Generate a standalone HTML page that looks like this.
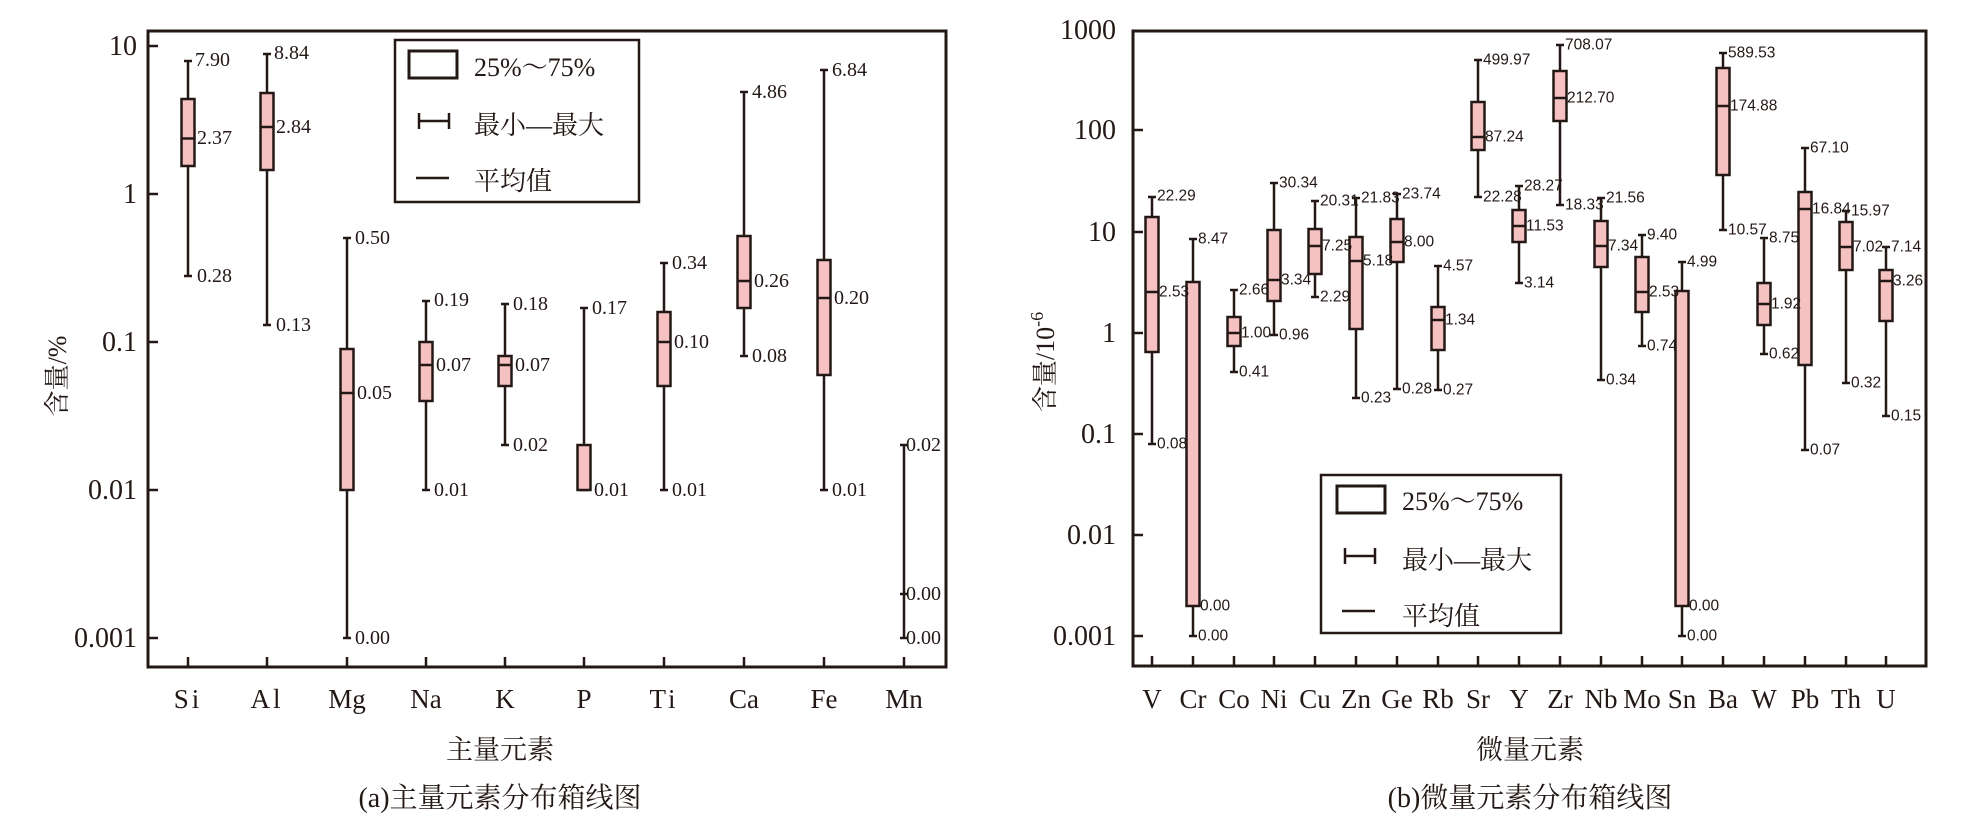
<!DOCTYPE html>
<html><head><meta charset="utf-8"><style>
body{margin:0;background:#fff}
svg{display:block}
.s{font-family:"Liberation Serif","Noto Serif CJK SC",serif;fill:#231815}
.a{font-family:"Liberation Sans",sans-serif;font-size:15.5px;fill:#231815}
.b{font-family:"Liberation Serif",serif;font-size:20px;fill:#231815}
.w{stroke:#231815;stroke-width:2.5;fill:none}
.bx{stroke:#231815;stroke-width:2.5;fill:#f6c1c1}
</style></head><body>
<svg width="1965" height="836" viewBox="0 0 1965 836" xmlns="http://www.w3.org/2000/svg">
<!-- LEFT PLOT -->
<rect x="148" y="31" width="798" height="636" fill="none" stroke="#231815" stroke-width="3"/>
<g class="w">
<path d="M148 46h10M148 194h10M148 342h10M148 490h10M148 638h10"/>
<path d="M188 667v-10M267 667v-10M347 667v-10M426 667v-10M505 667v-10M584 667v-10M664 667v-10M744 667v-10M824 667v-10M904 667v-10"/>
</g>
<g class="s" font-size="28" text-anchor="end">
<text x="137" y="55">10</text><text x="137" y="203">1</text><text x="137" y="351">0.1</text><text x="137" y="499">0.01</text><text x="137" y="647">0.001</text>
</g>
<g class="s" font-size="27" text-anchor="middle">
<text x="188" y="708" letter-spacing="3">Si</text><text x="267" y="708" letter-spacing="3">Al</text><text x="347" y="708">Mg</text><text x="426" y="708">Na</text><text x="505" y="708">K</text><text x="584" y="708">P</text><text x="664" y="708" letter-spacing="3">Ti</text><text x="744" y="708">Ca</text><text x="824" y="708">Fe</text><text x="904" y="708">Mn</text>
<text x="500" y="759">主量元素</text>
<text x="500" y="807" font-size="28">(a)主量元素分布箱线图</text>
</g>
<text class="s" font-size="26" text-anchor="middle" transform="translate(66,376) rotate(-90)">含量/%</text>
<g>
<path class="w" d="M188 61v215M184 61h8M184 276h8"/><rect class="bx" x="181.5" y="99" width="13" height="67"/><path class="w" d="M181.5 138.5h13"/>
<path class="w" d="M267 54v271M263 54h8M263 325h8"/><rect class="bx" x="260.5" y="93" width="13" height="77"/><path class="w" d="M260.5 127h13"/>
<path class="w" d="M347 238v400M343 238h8M343 638h8"/><rect class="bx" x="340.5" y="349" width="13" height="141"/><path class="w" d="M340.5 393h13"/>
<path class="w" d="M426 301v189M422 301h8M422 490h8"/><rect class="bx" x="419.5" y="342" width="13" height="59"/><path class="w" d="M419.5 365h13"/>
<path class="w" d="M505 304v141M501 304h8M501 445h8"/><rect class="bx" x="498.5" y="356" width="13" height="30"/><path class="w" d="M498.5 365h13"/>
<path class="w" d="M584 308v182M580 308h8M580 490h8"/><rect class="bx" x="577.5" y="445" width="13" height="45"/>
<path class="w" d="M664 263v227M660 263h8M660 490h8"/><rect class="bx" x="657.5" y="312" width="13" height="74"/><path class="w" d="M657.5 342h13"/>
<path class="w" d="M744 92v264M740 92h8M740 356h8"/><rect class="bx" x="737.5" y="236" width="13" height="72"/><path class="w" d="M737.5 281h13"/>
<path class="w" d="M824 70v420M820 70h8M820 490h8"/><rect class="bx" x="817.5" y="260" width="13" height="115"/><path class="w" d="M817.5 298h13"/>
<path class="w" d="M904 445v193M900 445h8M900 638h8M900 594h8"/>
</g>
<g class="b" dominant-baseline="central">
<text x="195" y="60">7.90</text><text x="197" y="138">2.37</text><text x="197" y="276">0.28</text>
<text x="274" y="53">8.84</text><text x="276" y="127">2.84</text><text x="276" y="325">0.13</text>
<text x="355" y="238">0.50</text><text x="357" y="393">0.05</text><text x="355" y="638">0.00</text>
<text x="434" y="300">0.19</text><text x="436" y="365">0.07</text><text x="434" y="490">0.01</text>
<text x="513" y="304">0.18</text><text x="515" y="365">0.07</text><text x="513" y="445">0.02</text>
<text x="592" y="308">0.17</text><text x="594" y="490">0.01</text>
<text x="672" y="263">0.34</text><text x="674" y="342">0.10</text><text x="672" y="490">0.01</text>
<text x="752" y="92">4.86</text><text x="754" y="281">0.26</text><text x="752" y="356">0.08</text>
<text x="832" y="70">6.84</text><text x="834" y="298">0.20</text><text x="832" y="490">0.01</text>
<text x="906" y="445">0.02</text><text x="906" y="594">0.00</text><text x="906" y="638">0.00</text>
</g>
<g transform="translate(395,40)">
<rect x="0" y="0" width="244" height="162" fill="#fff" stroke="#231815" stroke-width="2.5"/>
<rect x="14" y="11" width="48" height="27" fill="#fff" stroke="#231815" stroke-width="3"/>
<path class="w" stroke-width="4" d="M24 81h30M24 73v16M54 73v16M21 138h33"/>
<g class="s" font-size="26"><text x="79" y="36">25%～75%</text><text x="79" y="94">最小—最大</text><text x="79" y="150">平均值</text></g>
</g>

<!-- RIGHT PLOT -->
<rect x="1133" y="31" width="793" height="635" fill="none" stroke="#231815" stroke-width="3"/>
<g class="w">
<path d="M1133 130h10M1133 232h10M1133 333h10M1133 434h10M1133 535h10M1133 636h10"/>
<path d="M1152 666v-10M1193 666v-10M1234 666v-10M1274 666v-10M1315 666v-10M1356 666v-10M1397 666v-10M1438 666v-10M1478 666v-10M1519 666v-10M1560 666v-10M1601 666v-10M1642 666v-10M1682 666v-10M1723 666v-10M1764 666v-10M1805 666v-10M1846 666v-10M1886 666v-10"/>
</g>
<g class="s" font-size="28" text-anchor="end">
<text x="1116" y="39">1000</text><text x="1116" y="139">100</text><text x="1116" y="241">10</text><text x="1116" y="342">1</text><text x="1116" y="443">0.1</text><text x="1116" y="544">0.01</text><text x="1116" y="645">0.001</text>
</g>
<g class="s" font-size="27" text-anchor="middle">
<text x="1152" y="708">V</text><text x="1193" y="708">Cr</text><text x="1234" y="708">Co</text><text x="1274" y="708">Ni</text><text x="1315" y="708">Cu</text><text x="1356" y="708">Zn</text><text x="1397" y="708">Ge</text><text x="1438" y="708">Rb</text><text x="1478" y="708">Sr</text><text x="1519" y="708">Y</text><text x="1560" y="708">Zr</text><text x="1601" y="708">Nb</text><text x="1642" y="708">Mo</text><text x="1682" y="708">Sn</text><text x="1723" y="708">Ba</text><text x="1764" y="708">W</text><text x="1805" y="708">Pb</text><text x="1846" y="708">Th</text><text x="1886" y="708">U</text>
<text x="1530" y="759">微量元素</text>
<text x="1530" y="807" font-size="28">(b)微量元素分布箱线图</text>
</g>
<text class="s" font-size="26" text-anchor="middle" transform="translate(1054,362) rotate(-90)">含量/10<tspan font-size="18" dy="-11">-6</tspan></text>
<g>
<path class="w" d="M1152 197v247M1148 197h8M1148 444h8"/><rect class="bx" x="1145.5" y="217" width="13" height="135"/><path class="w" d="M1145.5 292h13"/>
<path class="w" d="M1193 239v397M1189 239h8M1189 636h8"/><rect class="bx" x="1186.5" y="282" width="13" height="324"/>
<path class="w" d="M1234 290v82M1230 290h8M1230 372h8"/><rect class="bx" x="1227.5" y="317" width="13" height="29"/><path class="w" d="M1227.5 333h13"/>
<path class="w" d="M1274 183v152M1270 183h8M1270 335h8"/><rect class="bx" x="1267.5" y="230" width="13" height="71"/><path class="w" d="M1267.5 280h13"/>
<path class="w" d="M1315 201v96M1311 201h8M1311 297h8"/><rect class="bx" x="1308.5" y="229" width="13" height="45"/><path class="w" d="M1308.5 246h13"/>
<path class="w" d="M1356 198v200M1352 198h8M1352 398h8"/><rect class="bx" x="1349.5" y="237" width="13" height="92"/><path class="w" d="M1349.5 261h13"/>
<path class="w" d="M1397 194v195M1393 194h8M1393 389h8"/><rect class="bx" x="1390.5" y="219" width="13" height="43"/><path class="w" d="M1390.5 242h13"/>
<path class="w" d="M1438 266v124M1434 266h8M1434 390h8"/><rect class="bx" x="1431.5" y="307" width="13" height="43"/><path class="w" d="M1431.5 320h13"/>
<path class="w" d="M1478 60v137M1474 60h8M1474 197h8"/><rect class="bx" x="1471.5" y="102" width="13" height="48"/><path class="w" d="M1471.5 137h13"/>
<path class="w" d="M1519 186v97M1515 186h8M1515 283h8"/><rect class="bx" x="1512.5" y="210" width="13" height="32"/><path class="w" d="M1512.5 226h13"/>
<path class="w" d="M1560 45v160M1556 45h8M1556 205h8"/><rect class="bx" x="1553.5" y="71" width="13" height="50"/><path class="w" d="M1553.5 98h13"/>
<path class="w" d="M1601 198v182M1597 198h8M1597 380h8"/><rect class="bx" x="1594.5" y="221" width="13" height="46"/><path class="w" d="M1594.5 246h13"/>
<path class="w" d="M1642 235v111M1638 235h8M1638 346h8"/><rect class="bx" x="1635.5" y="257" width="13" height="55"/><path class="w" d="M1635.5 292h13"/>
<path class="w" d="M1682 262v374M1678 262h8M1678 636h8"/><rect class="bx" x="1675.5" y="291" width="13" height="315"/>
<path class="w" d="M1723 53v177M1719 53h8M1719 230h8"/><rect class="bx" x="1716.5" y="68" width="13" height="107"/><path class="w" d="M1716.5 106h13"/>
<path class="w" d="M1764 238v116M1760 238h8M1760 354h8"/><rect class="bx" x="1757.5" y="283" width="13" height="42"/><path class="w" d="M1757.5 304h13"/>
<path class="w" d="M1805 148v302M1801 148h8M1801 450h8"/><rect class="bx" x="1798.5" y="192" width="13" height="173"/><path class="w" d="M1798.5 209h13"/>
<path class="w" d="M1846 211v172M1842 211h8M1842 383h8"/><rect class="bx" x="1839.5" y="222" width="13" height="48"/><path class="w" d="M1839.5 247h13"/>
<path class="w" d="M1886 247v169M1882 247h8M1882 416h8"/><rect class="bx" x="1879.5" y="270" width="13" height="51"/><path class="w" d="M1879.5 281h13"/>
</g>
<g class="a" dominant-baseline="central">
<text x="1157" y="196">22.29</text><text x="1159" y="292">2.53</text><text x="1157" y="444">0.08</text>
<text x="1198" y="239">8.47</text><text x="1200" y="606">0.00</text><text x="1198" y="636">0.00</text>
<text x="1239" y="290">2.66</text><text x="1241" y="333">1.00</text><text x="1239" y="372">0.41</text>
<text x="1279" y="183">30.34</text><text x="1281" y="280">3.34</text><text x="1279" y="335">0.96</text>
<text x="1320" y="201">20.31</text><text x="1322" y="246">7.25</text><text x="1320" y="297">2.29</text>
<text x="1361" y="198">21.83</text><text x="1363" y="261">5.18</text><text x="1361" y="398">0.23</text>
<text x="1402" y="194">23.74</text><text x="1404" y="242">8.00</text><text x="1402" y="389">0.28</text>
<text x="1443" y="266">4.57</text><text x="1445" y="320">1.34</text><text x="1443" y="390">0.27</text>
<text x="1483" y="60">499.97</text><text x="1485" y="137">87.24</text><text x="1483" y="197">22.28</text>
<text x="1524" y="186">28.27</text><text x="1526" y="226">11.53</text><text x="1524" y="283">3.14</text>
<text x="1565" y="45">708.07</text><text x="1567" y="98">212.70</text><text x="1565" y="205">18.33</text>
<text x="1606" y="198">21.56</text><text x="1608" y="246">7.34</text><text x="1606" y="380">0.34</text>
<text x="1647" y="235">9.40</text><text x="1649" y="292">2.53</text><text x="1647" y="346">0.74</text>
<text x="1687" y="262">4.99</text><text x="1689" y="606">0.00</text><text x="1687" y="636">0.00</text>
<text x="1728" y="53">589.53</text><text x="1730" y="106">174.88</text><text x="1728" y="230">10.57</text>
<text x="1769" y="238">8.75</text><text x="1771" y="304">1.92</text><text x="1769" y="354">0.62</text>
<text x="1810" y="148">67.10</text><text x="1812" y="209">16.84</text><text x="1810" y="450">0.07</text>
<text x="1851" y="211">15.97</text><text x="1853" y="247">7.02</text><text x="1851" y="383">0.32</text>
<text x="1891" y="247">7.14</text><text x="1893" y="281">3.26</text><text x="1891" y="416">0.15</text>
</g>
<g transform="translate(1321,475)">
<rect x="0" y="0" width="240" height="158" fill="#fff" stroke="#231815" stroke-width="2.5"/>
<rect x="16" y="11" width="48" height="27" fill="#fff" stroke="#231815" stroke-width="3"/>
<path class="w" stroke-width="4" d="M24 81h30M24 73v16M54 73v16M21 136h33"/>
<g class="s" font-size="26"><text x="81" y="35">25%～75%</text><text x="81" y="94">最小—最大</text><text x="81" y="150">平均值</text></g>
</g>
</svg>
</body></html>
